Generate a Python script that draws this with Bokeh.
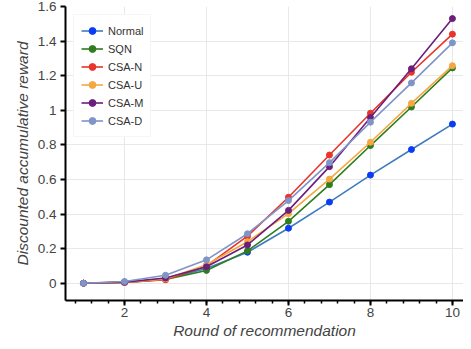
from bokeh.plotting import figure
from bokeh.models import Range1d, SingleIntervalTicker, CustomJSTickFormatter
from bokeh.embed import file_html
from bokeh.resources import INLINE

rounds = [1, 2, 3, 4, 5, 6, 7, 8, 9, 10]
normal = [0, 0.005, 0.025, 0.085, 0.179, 0.318, 0.469, 0.625, 0.773, 0.92]
sqn = [0, 0.004, 0.022, 0.074, 0.187, 0.358, 0.57, 0.796, 1.019, 1.245]
csa_n = [0, 0.005, 0.02, 0.10, 0.272, 0.497, 0.741, 0.983, 1.22, 1.44]
csa_u = [0, 0.005, 0.025, 0.107, 0.24, 0.402, 0.602, 0.815, 1.04, 1.258]
csa_m = [0, 0.006, 0.03, 0.095, 0.221, 0.421, 0.674, 0.958, 1.24, 1.53]
csa_d = [0, 0.01, 0.046, 0.135, 0.286, 0.478, 0.697, 0.931, 1.158, 1.39]

series = [
    ("Normal", normal, "#3f7bbf", "#0a3cf5"),
    ("SQN", sqn, "#2e7d1e", "#2f7d1f"),
    ("CSA-N", csa_n, "#e8342a", "#e8342a"),
    ("CSA-U", csa_u, "#f5a742", "#f5a742"),
    ("CSA-M", csa_m, "#6b1f7c", "#6b1f7c"),
    ("CSA-D", csa_d, "#7f95c8", "#7f95c8"),
]

FONT = "Liberation Sans"

p = figure(width=463, height=341, output_backend="svg", toolbar_location=None,
           x_range=Range1d(0.56, 10.27), y_range=Range1d(-0.1, 1.6),
           min_border_left=65, min_border_right=0, min_border_top=6, min_border_bottom=40)
p.outline_line_color = None

for name, vals, lc, mc in series:
    p.line(rounds, vals, line_color=lc, line_width=1.6, legend_label=name)
    p.scatter(rounds, vals, size=6, fill_color=mc, line_color=mc, legend_label=name)

p.xaxis.ticker = SingleIntervalTicker(interval=2, num_minor_ticks=5)
p.yaxis.ticker = SingleIntervalTicker(interval=0.2, num_minor_ticks=0)
p.yaxis.formatter = CustomJSTickFormatter(code="return String(Number(tick.toFixed(1)));")

for ax in (p.xaxis, p.yaxis):
    ax.axis_line_color = "black"
    ax.axis_line_width = 2
    ax.major_tick_line_color = "black"
    ax.major_tick_line_width = 2
    ax.minor_tick_line_color = "black"
    ax.minor_tick_line_width = 1.5
    ax.major_tick_in = 0
    ax.major_tick_out = 5
    ax.minor_tick_in = 0
    ax.minor_tick_out = 3
    ax.major_label_text_font = FONT
    ax.major_label_text_font_size = "13.5px"
    ax.major_label_text_color = "#444444"
    ax.axis_label_text_font = FONT
    ax.axis_label_text_font_size = "15.5px"
    ax.axis_label_text_font_style = "italic"
    ax.axis_label_text_color = "#444444"

p.xaxis.axis_label = "Round of recommendation"
p.yaxis.axis_label = "Discounted accumulative reward"
p.xaxis.major_label_standoff = 2
p.yaxis.major_label_standoff = 4
p.xaxis.axis_label_standoff = 2
p.yaxis.axis_label_standoff = 4

p.xgrid.grid_line_color = "#e8e8e8"
p.ygrid.grid_line_color = "#e8e8e8"
p.xgrid.grid_line_width = 1
p.ygrid.grid_line_width = 1

lg = p.legend[0]
lg.location = "top_left"
lg.margin = 8
lg.padding = 7
lg.spacing = 1
lg.label_height = 17
lg.glyph_height = 17
lg.glyph_width = 22
lg.label_standoff = 5
lg.label_text_font = FONT
lg.label_text_font_size = "11px"
lg.label_text_color = "#333333"
lg.border_line_color = "#eeeeee"
lg.background_fill_color = "white"
lg.background_fill_alpha = 1

open("out.html", "w").write(file_html(p, INLINE))
